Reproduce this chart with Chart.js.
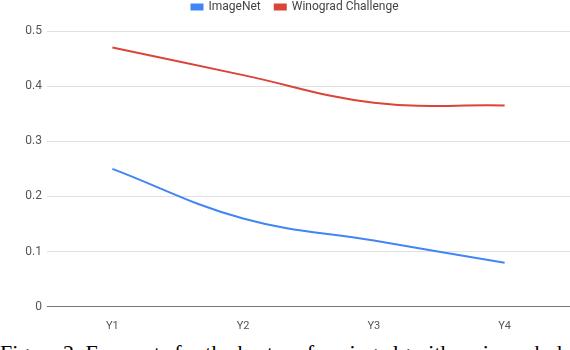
<!DOCTYPE html>
<html>
<head>
<meta charset="utf-8">
<script src="https://cdn.jsdelivr.net/npm/chart.js@4/dist/chart.umd.min.js"></script>
<style>
  html, body { margin: 0; padding: 0; background: #fff; overflow: hidden; }
  #wrap { position: absolute; left: 0; top: 0; width: 570px; height: 338px; }
  #caption {
    position: absolute; left: 0; top: 342px; width: 570px; height: 30px;
    font-family: 'Liberation Serif', 'Times New Roman', serif; font-size: 22px;
    line-height: 22px; color: #000; white-space: nowrap; overflow: hidden;
  }
</style>
</head>
<body>
<div id="wrap"><canvas id="chart"></canvas></div>
<div id="caption">Figure 2: Forecasts for the best performing algorithms in each domain.</div>
<script>
// values
const years = ['Y1', 'Y2', 'Y3', 'Y4'];
const imageNet = [0.25, 0.16, 0.12, 0.08];
const winograd = [0.47, 0.42, 0.37, 0.365];

const tickColor = '#555';

// legend: extra room below it, and nudged right a bit
const legendSpace = {
    id: 'legendSpace',
    afterInit(chart) {
        const fit = chart.legend.fit;
        chart.legend.fit = function () {
            fit.bind(chart.legend)();
            this.height = 44;
        };
    },
    afterLayout(chart) {
        chart.legend.left += 10;
        chart.legend.right += 10;
    }
};

const ctx = document.getElementById('chart').getContext('2d');
new Chart(ctx, {
    type: 'line',
    data: {
        labels: years,
        datasets: [{
            label: 'ImageNet',
            data: imageNet,
            borderColor: '#4285f4',
            backgroundColor: '#4285f4',
            borderWidth: 2,
            pointRadius: 0,
            tension: 0.4,
            fill: false
        }, {
            label: 'Winograd Challenge',
            data: winograd,
            borderColor: '#db4437',
            backgroundColor: '#db4437',
            borderWidth: 2,
            pointRadius: 0,
            tension: 0.4,
            fill: false
        }]
    },
    options: {
        responsive: true,
        maintainAspectRatio: false,
        animation: false,
        layout: { padding: { left: 0, right: 0, top: -13, bottom: 0 } },
        plugins: {
            legend: {
                position: 'top',
                labels: {
                    boxWidth: 11,
                    boxHeight: 5,
                    padding: 14,
                    color: '#444',
                    font: { family: 'Roboto', size: 12 }
                }
            },
            tooltip: { enabled: false }
        },
        scales: {
            x: {
                offset: true,
                grid: { display: false },
                border: { display: true, color: '#777', width: 1 },
                ticks: {
                    color: tickColor,
                    padding: 5,
                    font: { family: 'Roboto', size: 11 }
                }
            },
            y: {
                min: 0,
                max: 0.5,
                afterFit: function (scale) { scale.width = 47; },
                border: { display: false },
                grid: {
                    drawTicks: false,
                    color: (c) => c.tick.value === 0 ? '#777' : '#e0e0e0'
                },
                ticks: {
                    stepSize: 0.1,
                    padding: 5,
                    color: tickColor,
                    font: { family: 'Roboto', size: 12 }
                }
            }
        }
    },
    plugins: [legendSpace]
});
</script>
</body>
</html>
